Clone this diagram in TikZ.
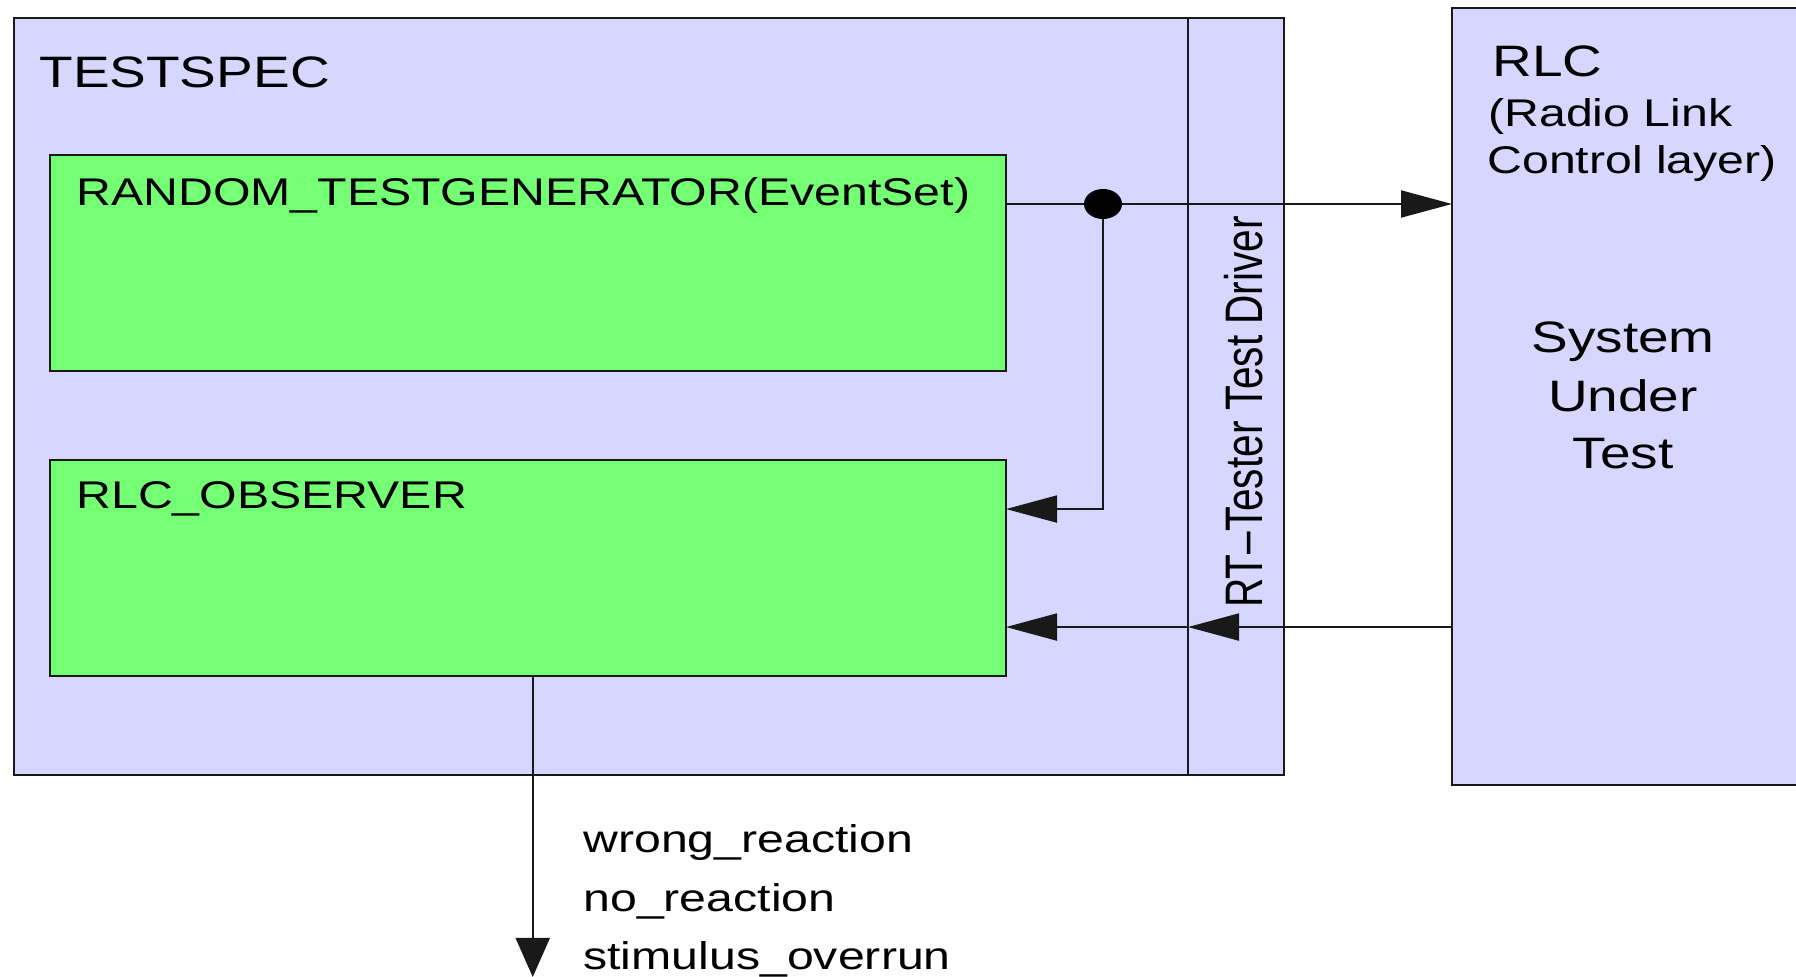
\documentclass[tikz,border=0pt]{standalone}
\usepackage{fontspec}
\setmainfont{Liberation Sans}[FakeStretch=1.25]
\newfontfamily\plainsans{Liberation Sans}
\usetikzlibrary{arrows.meta}
\definecolor{lav}{RGB}{214,214,255}
\definecolor{grn}{RGB}{117,255,117}
\newcommand\fbig{\fontsize{22pt}{26pt}\selectfont}
\newcommand\fnorm{\fontsize{19.3pt}{23pt}\selectfont}
\newcommand\fdrv{\fontsize{20.3pt}{24pt}\selectfont}
\tikzset{
  lavbox/.style={draw=black!90, line width=1pt, fill=lav, anchor=north west, inner sep=0pt, outer sep=0pt},
  grnbox/.style={draw=black!90, line width=1pt, fill=grn, anchor=north west, inner sep=0pt, outer sep=0pt,
                 minimum width=478.25pt, minimum height=107.75pt},
  txt/.style={anchor=base west, inner sep=0pt, font=\fnorm},
  conn/.style={draw=black!90, line width=1pt},
  tipH/.style={-{Triangle[length=25.5pt,width=13.5pt]}},
  tipV/.style={-{Triangle[length=19.5pt,width=17pt]}}
}
\begin{document}
\begin{tikzpicture}[x=0.5pt,y=-0.5pt]
\useasboundingbox (0,0) rectangle (1796,977);
% boxes
\node[lavbox, minimum width=635.25pt, minimum height=378.5pt] (spec) at (13.5,18) {};
\node[lavbox, anchor=north east, minimum width=48pt, minimum height=378.5pt] (driver) at (spec.north east) {};
\node[lavbox, minimum width=190pt, minimum height=388.5pt] (rlc) at (1452,8) {};
\node[grnbox] (gen) at (49.5,155.5) {};
\node[grnbox] (obs) at (49.5,460.5) {};
% texts
\node[txt, font=\fbig] (tspec) at (39,88) {TESTSPEC};
\node[txt] (gentxt) at (76,206) {RANDOM\_TESTGENERATOR(EventSet)};
\node[txt] (obstxt) at (76,509) {RLC\_OBSERVER};
\node[txt, font=\fbig] (rlctxt) at (1492,77) {RLC};
\node[txt] (rlc2) at (1488,127) {(Radio Link};
\node[txt] (rlc3) at (1487,174) {Control layer)};
\node[anchor=base, inner sep=0pt, font=\fbig] (sut1) at (1623,353) {System};
\node[anchor=base, inner sep=0pt, font=\fbig] (sut2) at (1623,412) {Under};
\node[anchor=base, inner sep=0pt, font=\fbig] (sut3) at (1623,469) {Test};
\node[rotate=90, anchor=base, inner sep=0pt] (drvtxt) at (1262,412)
  {\scalebox{1}[1.3]{\plainsans\fdrv RT–Tester Test Driver}};
\node[txt] (o1) at (583,853) {wrong\_reaction};
\node[txt] (o2) at (583,912) {no\_reaction};
\node[txt] (o3) at (583,970) {stimulus\_overrun};
% connectors
\coordinate (dot) at (1103,204);
\coordinate (fbk) at ([yshift=29.6pt]obs.east);
\coordinate (ret) at ([yshift=-29.4pt]obs.east);
\coordinate (outstart) at ([xshift=2.5pt]obs.south);
\coordinate (outend) at (0,977);
\draw[conn] (gen.east |- dot) -- (dot);
\draw[conn, tipH] (dot) -- (rlc.west |- dot);
\draw[conn, tipH] (dot) |- (fbk);
\draw[conn, tipH] (rlc.west |- ret) -- (driver.west |- ret);
\draw[conn, tipH] (driver.west |- ret) -- (ret);
\draw[conn, tipV] (outstart) -- (outstart |- outend);
\fill[black] (dot) ellipse [x radius=19, y radius=15];
\end{tikzpicture}
\end{document}
